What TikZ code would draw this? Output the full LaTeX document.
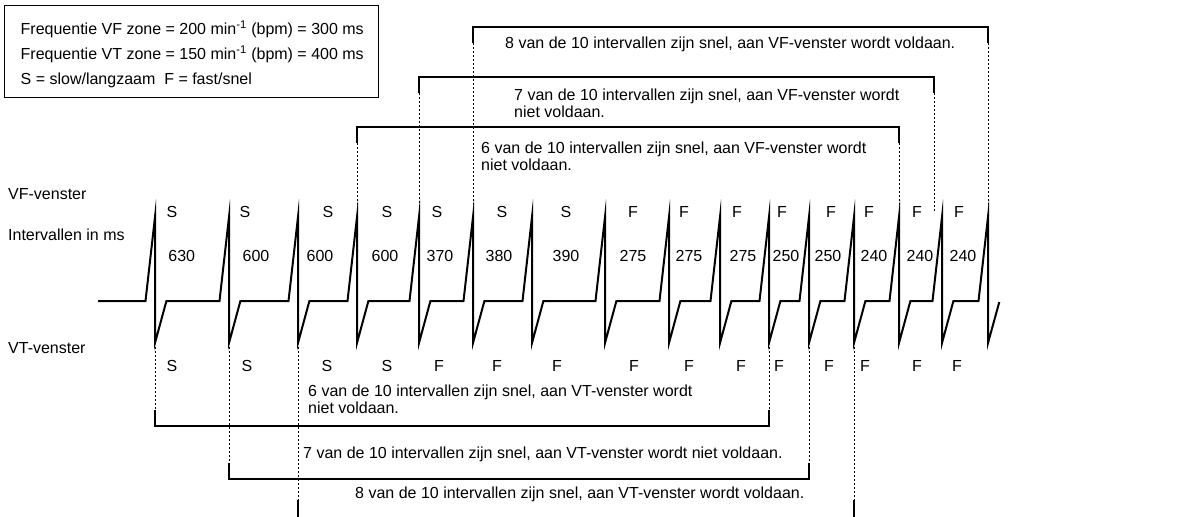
\documentclass[tikz,border=0pt]{standalone}
\usepackage{fontspec}
\setmainfont{Liberation Sans}
\begin{document}
\begin{tikzpicture}[x=1pt,y=-1pt,
  font=\fontsize{16}{17.5}\selectfont,
  wave/.style={line width=2pt, line join=miter, miter limit=20},
  brk/.style={line width=1.2pt},
  dsh/.style={line width=1pt, dash pattern=on 2pt off 2pt},
  lbl/.style={anchor=base, inner sep=0pt},
  txt/.style={anchor=base west, inner sep=0pt}]
\useasboundingbox (0,0) rectangle (1179,517);

% legend
\node[draw, line width=1.2pt, anchor=north west, minimum width=374pt, minimum height=92pt, inner sep=0pt] (legend) at (4,5) {};
\node[txt] (leg1) at (20.5,34.3) {Frequentie VF zone = 200 min\textsuperscript{-1} (bpm) = 300 ms};
\node[txt] (leg2) at (20.5,59.3) {Frequentie VT zone = 150 min\textsuperscript{-1} (bpm) = 400 ms};
\node[txt] (leg3) at (20.5,84.3) {S = slow/langzaam\ \ F = fast/snel};

% row titles
\node[txt] (vfv) at (8,199) {VF-venster};
\node[txt] (ivm) at (8,240) {Intervallen in ms};
\node[txt] (vtv) at (8,353) {VT-venster};

% peaks
\foreach \p [count=\i] in {155,229,298,357,419,473,532,605,669,720,769,809,854,899,942,988}{
  \coordinate (t\i) at (\p,217);
  \coordinate (b\i) at (\p,343);
}
% waveform
\draw[wave] (98,301)
  \foreach \p in {155,229,298,357,419,473,532,605,669,720,769,809,854,899,942}{
    -- (\p-9.5,301) -- (\p,217) -- (\p,343) -- (\p+11.4,301) }
  -- (978.5,301) -- (t16) -- (b16) -- (999.3,302);

% VF labels
\foreach \x/\t [count=\i] in {172/S,245/S,328/S,387/S,437/S,502/S,566/S,633/F,684/F,737/F,782/F,831/F,869/F,917/F,959/F}
  \node[lbl] (vf\i) at (\x,217) {\t};
% intervals
\foreach \x/\t [count=\i] in {181.7/630,256/600,320/600,385/600,440/370,499/380,566/390,633/275,689/275,743/275,786/250,828/250,874/240,920/240,963/240}
  \node[lbl] (iv\i) at (\x,261.7) {\t};
% VT labels
\foreach \x/\t [count=\i] in {172/S,247/S,327/S,387/S,439/F,497/F,557/F,634/F,689/F,741/F,779/F,829/F,865/F,917/F,957/F}
  \node[lbl] (vt\i) at (\x,371.7) {\t};

% VF brackets
\foreach \n/\l/\r/\yy/\e in {6/357/899/127/215, 7/419/934/77/213, 8/473/988/27/215}{
  \coordinate (vfL\n) at (\l,\yy+16);
  \coordinate (vfR\n) at (\r,\yy+16);
  \draw[brk] (vfL\n) -- ++(0,-16) -| (vfR\n);
  \draw[dsh] (vfL\n) -- (\l,\e);
  \draw[dsh] (vfR\n) -- (\r,\e);
}
\node[txt] (vf8a) at (505,48.3) {8 van de 10 intervallen zijn snel, aan VF-venster wordt voldaan.};
\node[txt] (vf7a) at (514,100) {7 van de 10 intervallen zijn snel, aan VF-venster wordt};
\node[txt] (vf7b) at (514,117) {niet voldaan.};
\node[txt] (vf6a) at (481,153.3) {6 van de 10 intervallen zijn snel, aan VF-venster wordt};
\node[txt] (vf6b) at (481,170.3) {niet voldaan.};

% VT brackets
\foreach \n/\l/\r/\yy/\s in {6/155/769/426/16, 7/229/809/479/16, 8/298/854/532/32}{
  \coordinate (vtL\n) at (\l,\yy-\s);
  \coordinate (vtR\n) at (\r,\yy-\s);
  \draw[brk] (vtL\n) -- ++(0,\s) -| (vtR\n);
  \draw[dsh] (\l,347) -- (vtL\n);
  \draw[dsh] (\r,347) -- (vtR\n);
}
\node[txt] (vt6a) at (308,396) {6 van de 10 intervallen zijn snel, aan VT-venster wordt};
\node[txt] (vt6b) at (308,413) {niet voldaan.};
\node[txt] (vt7a) at (303,458.3) {7 van de 10 intervallen zijn snel, aan VT-venster wordt niet voldaan.};
\node[txt] (vt8a) at (355,498.3) {8 van de 10 intervallen zijn snel, aan VT-venster wordt voldaan.};
\end{tikzpicture}
\end{document}
